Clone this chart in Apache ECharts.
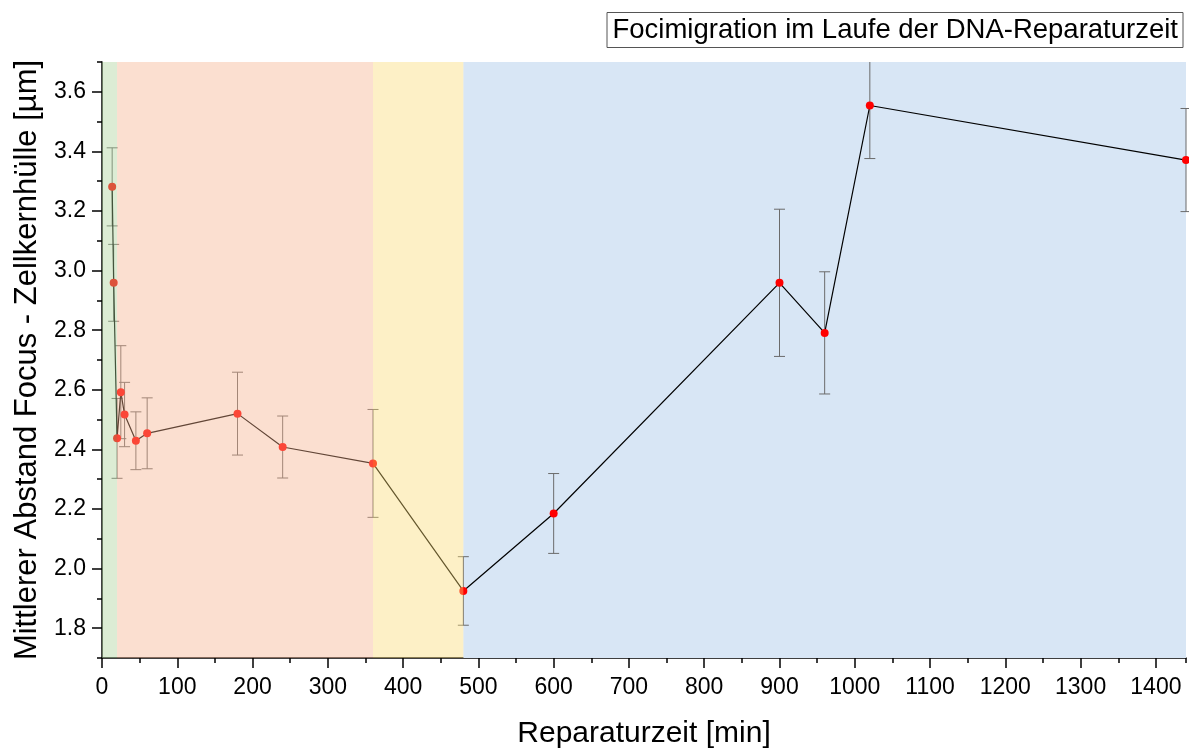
<!DOCTYPE html>
<html>
<head>
<meta charset="utf-8">
<title>Focimigration</title>
<script src="https://cdn.jsdelivr.net/npm/echarts@6/dist/echarts.min.js"></script>
<style>
	html, body { margin: 0; padding: 0; background: #ffffff; }
	#chart { width: 1189px; height: 749px; }
</style>
</head>
<body>
<div id="chart"></div>
<script>
// Reparaturzeit in Minuten
var repairTime = [13.5, 15.5, 20, 25, 30, 45, 60, 180, 240, 360, 480, 600, 900, 960, 1020, 1440];
// mittlerer Abstand Focus - Zellkernhülle (µm)
var meanDistance = [3.281, 2.959, 2.437, 2.592, 2.517, 2.429, 2.454, 2.520, 2.408, 2.353, 1.925, 2.185, 2.959, 2.791, 3.554, 3.371];
// Fehler (+/-)
var distanceError = [0.131, 0.129, 0.134, 0.156, 0.108, 0.097, 0.119, 0.139, 0.104, 0.181, 0.115, 0.134, 0.247, 0.205, 0.178, 0.173];
// Hintergrund-Phasen (Start / Ende in min)
var phaseStart = [0, 20, 360, 480];
var phaseEnd = [20, 360, 480, 1440];

var xTicks = { min: 0, max: 1440, major: 100, minor: 50 };
var yTicks = { min: 1.7, max: 3.7, minor: 0.1 };

function buildErrorData() {
	var ret = [];
	for (var i = 0; i < repairTime.length; i++) {
		ret.push([repairTime[i], meanDistance[i] - distanceError[i], meanDistance[i] + distanceError[i]]);
	}
	return ret;
}

function buildLineData() {
	var ret = [];
	for (var i = 0; i < repairTime.length; i++) {
		ret.push([repairTime[i], meanDistance[i]]);
	}
	return ret;
}

function buildPhaseData(idxList) {
	var ret = [];
	idxList.forEach(function(i) {
		ret.push([phaseStart[i], phaseEnd[i], i]);
	});
	return ret;
}

// blau liegt unter den Daten, die anderen Phasen halbtransparent darueber (wie im Original)
var phaseColors = ['rgba(167,207,147,0.4)', 'rgba(245,175,137,0.4)', 'rgba(250,217,112,0.4)', '#d8e6f5'];

function renderPhase(params, api) {
	var p0 = api.coord([api.value(0), yTicks.min]);
	var p1 = api.coord([api.value(1), yTicks.min]);
	var cs = params.coordSys;
	return {
		type: 'rect',
		shape: { x: p0[0], y: cs.y, width: p1[0] - p0[0], height: cs.height },
		style: { fill: phaseColors[api.value(2)] }
	};
}

function renderErrorBar(params, api) {
	var x = api.value(0);
	var lo = api.coord([x, api.value(1)]);
	var hi = api.coord([x, api.value(2)]);
	var cs = params.coordSys;
	var half = 5.5;
	var style = { stroke: '#6b6b6b', lineWidth: 1, fill: null };
	var children = [];
	var top = Math.max(hi[1], cs.y);
	var bottom = Math.min(lo[1], cs.y + cs.height);
	children.push({ type: 'line', shape: { x1: lo[0], y1: bottom, x2: hi[0], y2: top }, style: style });
	if (lo[1] <= cs.y + cs.height) {
		children.push({ type: 'line', shape: { x1: lo[0] - half, y1: lo[1], x2: lo[0] + half, y2: lo[1] }, style: style });
	}
	if (hi[1] >= cs.y) {
		children.push({ type: 'line', shape: { x1: hi[0] - half, y1: hi[1], x2: hi[0] + half, y2: hi[1] }, style: style });
	}
	return { type: 'group', children: children };
}

function drawChart() {
	var myChart = echarts.init(document.getElementById('chart'), null, { renderer: 'canvas' });
	var font = 'Liberation Sans, Arial, sans-serif';
	var option = {
		animation: false,
		backgroundColor: '#ffffff',
		title: {
			text: 'Focimigration im Laufe der DNA-Reparaturzeit',
			right: 6,
			top: 12,
			padding: [4, 5, 4, 6],
			borderColor: '#555555',
			borderWidth: 1,
			textStyle: {
				fontFamily: font,
				fontSize: 27.5,
				fontWeight: 'normal',
				color: '#000000'
			}
		},
		grid: {
			left: 102,
			right: 3,
			top: 62,
			bottom: 91,
			outerBoundsMode: 'none'
		},
		xAxis: [{
			type: 'value',
			min: xTicks.min,
			max: xTicks.max,
			interval: xTicks.major,
			name: 'Reparaturzeit [min]',
			nameLocation: 'middle',
			nameGap: 61,
			nameTextStyle: { fontFamily: font, fontSize: 30, color: '#000000' },
			axisLine: { show: true, lineStyle: { color: '#000000', width: 1.5 } },
			axisTick: { show: true, length: 10, lineStyle: { color: '#000000', width: 1.5 } },
			axisLabel: {
				fontFamily: font, fontSize: 23, color: '#000000', margin: 18,
				showMaxLabel: false,
				formatter: function(v) { return String(v); }
			},
			splitLine: { show: false }
		}, {
			// nur kleine Zwischenstriche
			type: 'value',
			position: 'bottom',
			min: xTicks.min,
			max: xTicks.max,
			interval: xTicks.minor,
			axisLine: { show: false },
			axisTick: { show: true, length: 5, lineStyle: { color: '#000000', width: 1.5 } },
			axisLabel: { show: false },
			splitLine: { show: false }
		}],
		yAxis: [{
			type: 'value',
			min: yTicks.min,
			max: yTicks.max,
			splitNumber: 10,
			name: 'Mittlerer Abstand Focus - Zellkernhülle [µm]',
			nameLocation: 'middle',
			nameGap: 56,
			nameTextStyle: { fontFamily: font, fontSize: 31, color: '#000000' },
			axisLine: { show: true, lineStyle: { color: '#000000', width: 1.5 } },
			axisTick: { show: true, length: 10, lineStyle: { color: '#000000', width: 1.5 } },
			axisLabel: {
				fontFamily: font, fontSize: 23, color: '#000000', margin: 16,
				showMinLabel: false, showMaxLabel: false,
				formatter: function(v) { return v.toFixed(1); }
			},
			splitLine: { show: false }
		}, {
			type: 'value',
			position: 'left',
			min: yTicks.min,
			max: yTicks.max,
			interval: yTicks.minor,
			axisLine: { show: false },
			axisTick: { show: true, length: 5, lineStyle: { color: '#000000', width: 1.5 } },
			axisLabel: { show: false },
			splitLine: { show: false }
		}],
		series: [{
			name: 'phase-unten',
			type: 'custom',
			z: 1,
			silent: true,
			renderItem: renderPhase,
			encode: { x: [0, 1] },
			data: buildPhaseData([3])
		}, {
			name: 'Fehler',
			type: 'custom',
			z: 2,
			silent: true,
			renderItem: renderErrorBar,
			encode: { x: 0, y: [1, 2] },
			data: buildErrorData()
		}, {
			name: 'Abstand',
			type: 'line',
			z: 3,
			clip: false,
			symbol: 'circle',
			symbolSize: 8,
			showAllSymbol: true,
			itemStyle: { color: '#ff0000', borderWidth: 0 },
			lineStyle: { color: '#000000', width: 1.2 },
			data: buildLineData()
		}, {
			name: 'phase-oben',
			type: 'custom',
			z: 5,
			silent: true,
			renderItem: renderPhase,
			encode: { x: [0, 1] },
			data: buildPhaseData([0, 1, 2])
		}]
	};
	myChart.setOption(option);
}

drawChart();
</script>
</body>
</html>
